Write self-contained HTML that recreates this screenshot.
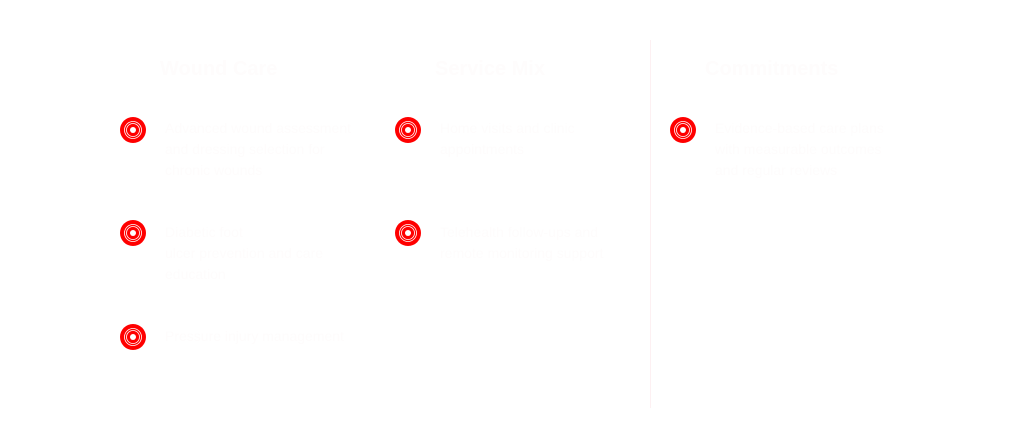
<!DOCTYPE html>
<html><head><style>
body{margin:0;width:1024px;height:447px;background:#fff;position:relative;overflow:hidden;font-family:"Liberation Sans",sans-serif;color:#fefcfc}
.h{position:absolute;font-size:20px;font-weight:bold;top:58px}
.t{position:absolute;font-size:14px;line-height:21px}
svg.i{position:absolute;width:28px;height:28px}
.line{position:absolute;left:650px;top:40px;width:1px;height:368px;background:#fdf0f2}
</style></head><body>
<div class="line"></div>
<div class="h" style="left:160px">Wound Care</div>
<div class="h" style="left:435px">Service Mix</div>
<div class="h" style="left:705px">Commitments</div>
<svg class="i" style="left:119px;top:116px" viewBox="0 0 28 28"><circle cx="14" cy="14" r="13" fill="#f00"/><circle cx="14" cy="14" r="8.5" fill="none" stroke="#fff" stroke-width="0.8"/><circle cx="14" cy="14" r="6.5" fill="none" stroke="#fff" stroke-width="0.8"/><circle cx="14" cy="14" r="3" fill="#fff"/></svg>
<svg class="i" style="left:394px;top:116px" viewBox="0 0 28 28"><circle cx="14" cy="14" r="13" fill="#f00"/><circle cx="14" cy="14" r="8.5" fill="none" stroke="#fff" stroke-width="0.8"/><circle cx="14" cy="14" r="6.5" fill="none" stroke="#fff" stroke-width="0.8"/><circle cx="14" cy="14" r="3" fill="#fff"/></svg>
<svg class="i" style="left:669px;top:116px" viewBox="0 0 28 28"><circle cx="14" cy="14" r="13" fill="#f00"/><circle cx="14" cy="14" r="8.5" fill="none" stroke="#fff" stroke-width="0.8"/><circle cx="14" cy="14" r="6.5" fill="none" stroke="#fff" stroke-width="0.8"/><circle cx="14" cy="14" r="3" fill="#fff"/></svg>
<svg class="i" style="left:119px;top:219px" viewBox="0 0 28 28"><circle cx="14" cy="14" r="13" fill="#f00"/><circle cx="14" cy="14" r="8.5" fill="none" stroke="#fff" stroke-width="0.8"/><circle cx="14" cy="14" r="6.5" fill="none" stroke="#fff" stroke-width="0.8"/><circle cx="14" cy="14" r="3" fill="#fff"/></svg>
<svg class="i" style="left:394px;top:219px" viewBox="0 0 28 28"><circle cx="14" cy="14" r="13" fill="#f00"/><circle cx="14" cy="14" r="8.5" fill="none" stroke="#fff" stroke-width="0.8"/><circle cx="14" cy="14" r="6.5" fill="none" stroke="#fff" stroke-width="0.8"/><circle cx="14" cy="14" r="3" fill="#fff"/></svg>
<svg class="i" style="left:119px;top:323px" viewBox="0 0 28 28"><circle cx="14" cy="14" r="13" fill="#f00"/><circle cx="14" cy="14" r="8.5" fill="none" stroke="#fff" stroke-width="0.8"/><circle cx="14" cy="14" r="6.5" fill="none" stroke="#fff" stroke-width="0.8"/><circle cx="14" cy="14" r="3" fill="#fff"/></svg>
<div class="t" style="left:165px;top:118px">Advanced wound assessment<br>and dressing selection for<br>chronic wounds</div>
<div class="t" style="left:440px;top:118px">Home visits and clinic<br>appointments</div>
<div class="t" style="left:715px;top:118px">Evidence-based care plans<br>with measurable outcomes<br>and regular reviews</div>
<div class="t" style="left:165px;top:222px">Diabetic foot<br>ulcer prevention and care<br>education</div>
<div class="t" style="left:440px;top:222px">Telehealth follow-ups and<br>remote monitoring support</div>
<div class="t" style="left:165px;top:326px">Pressure injury management</div>
</body></html>
